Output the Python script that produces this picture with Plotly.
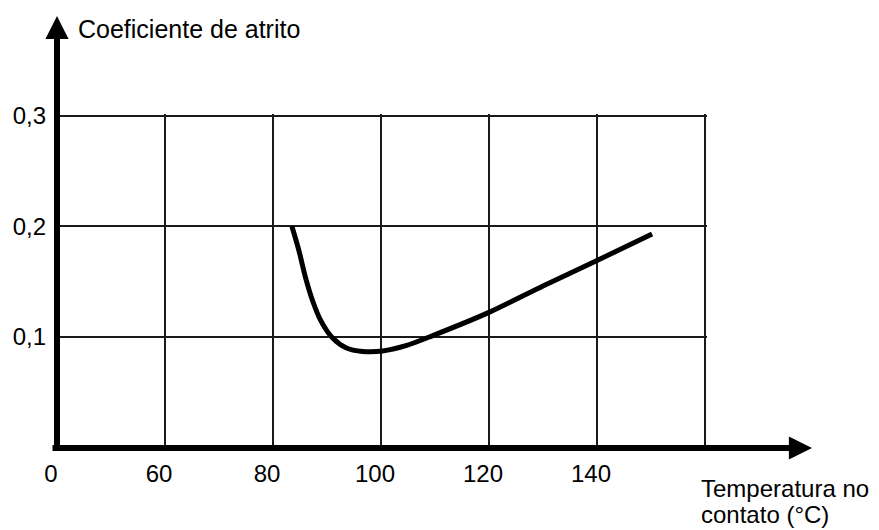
import plotly.graph_objects as go

# ---- data ----
temperature = [83.5, 84.8, 86.0, 87.3, 88.8, 91.0, 93.5, 96.6, 100.3, 104.6, 109.6, 120.0, 130.0, 140.0, 150.2]
friction = [0.200, 0.178, 0.154, 0.133, 0.115, 0.099, 0.090, 0.0866, 0.087, 0.0918, 0.101, 0.122, 0.146, 0.169, 0.193]

x_tick_vals = [40, 60, 80, 100, 120, 140, 160]
x_tick_text = ["0", "60", "80", "100", "120", "140", ""]
y_tick_vals = [0.1, 0.2, 0.3]

y_title = "Coeficiente de atrito"
x_title_1 = "Temperatura no"
x_title_2 = "contato (°C)"

FONT = "Liberation Sans, Arial, sans-serif"

fig = go.Figure()
fig.add_trace(go.Scatter(
    x=temperature, y=friction, mode="lines",
    line=dict(color="black", width=5, shape="spline", smoothing=0.8),
    hoverinfo="skip", showlegend=False,
))

fig.update_layout(
    width=879, height=530,
    margin=dict(l=57, r=172, t=114, b=83),
    paper_bgcolor="white", plot_bgcolor="white",
    separators=",.",
    font=dict(family=FONT, size=24, color="black"),
    showlegend=False,
)
fig.update_xaxes(
    range=[40, 160.37], tickvals=x_tick_vals, ticktext=x_tick_text,
    showgrid=True, gridcolor="#1a1a1a", gridwidth=1.5,
    showline=False, zeroline=False, ticks="",
    ticklabelshift=-6, ticklabelstandoff=10,
    tickfont=dict(family=FONT, size=24, color="black"),
    fixedrange=True,
)
fig.update_yaxes(
    range=[0, 0.3018], tickvals=y_tick_vals, tickformat=".1f",
    showgrid=True, gridcolor="#1a1a1a", gridwidth=1.5,
    showline=False, zeroline=False, ticks="",
    ticklabelstandoff=10,
    tickfont=dict(family=FONT, size=24, color="black"),
    fixedrange=True,
)

# helpers to convert plot pixels to paper coords (plot area 57..707 x 114..447)
def px(xp):
    return (xp - 57) / 650.0

def py(yp):
    return (447 - yp) / 333.0

# axis arrows
fig.add_annotation(xref="paper", yref="paper", x=0, y=py(16), text="",
                   showarrow=True, arrowhead=2, arrowwidth=6, arrowsize=0.77,
                   arrowcolor="black", ax=0, ay=436, standoff=0, startstandoff=0)
fig.add_annotation(xref="paper", yref="paper", x=px(812), y=py(448), text="",
                   showarrow=True, arrowhead=2, arrowwidth=6, arrowsize=0.77,
                   arrowcolor="black", ax=-761, ay=0, standoff=0, startstandoff=0)

# axis titles
fig.add_annotation(xref="paper", yref="paper", x=px(76), y=py(29), text=y_title,
                   showarrow=False, xanchor="left", yanchor="middle",
                   font=dict(family=FONT, size=25, color="black"))
fig.add_annotation(xref="paper", yref="paper", x=px(699), y=py(488), text=x_title_1,
                   showarrow=False, xanchor="left", yanchor="middle",
                   font=dict(family=FONT, size=24, color="black"))
fig.add_annotation(xref="paper", yref="paper", x=px(699), y=py(514), text=x_title_2,
                   showarrow=False, xanchor="left", yanchor="middle",
                   font=dict(family=FONT, size=24, color="black"))

fig.write_html("out.html")
